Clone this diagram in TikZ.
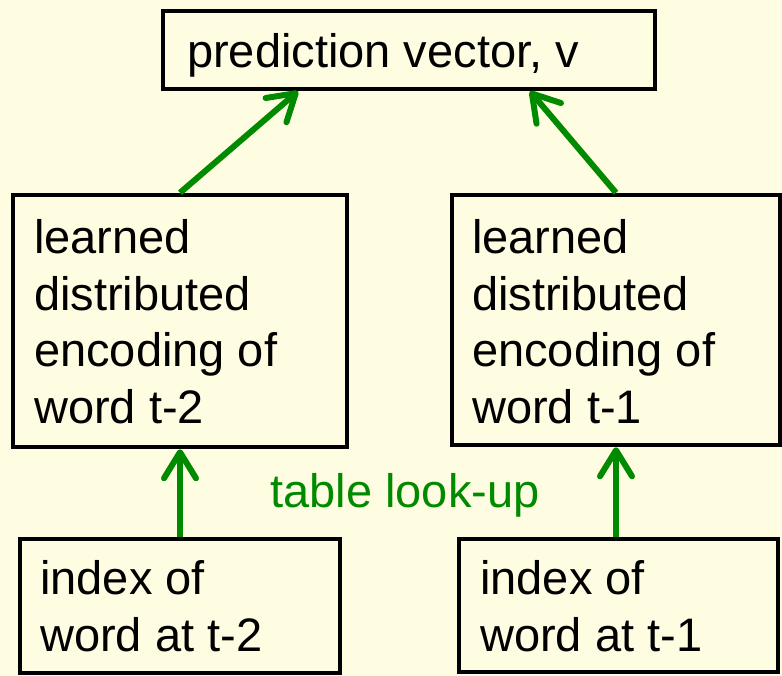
\documentclass[tikz,border=0pt]{standalone}
\usepackage{fontspec}
\setmainfont{Liberation Sans}
\usetikzlibrary{arrows.meta,calc}
\definecolor{bgyellow}{RGB}{255,253,225}
\definecolor{arrgreen}{RGB}{0,138,0}
\begin{document}
\begin{tikzpicture}[x=1pt,y=-1pt,
  box/.style={draw=black,line width=4.5pt,inner sep=0pt,fill=none},
  txt/.style={inner sep=0pt,align=left,font=\fontsize{47}{56.5}\selectfont,anchor=north west},
  conn/.style={draw=arrgreen,line width=6pt,-{Straight Barb[length=26pt,width=32pt,round]}},
  lbl/.style={inner sep=0pt,text=arrgreen,font=\fontsize{47}{56.5}\selectfont,anchor=base}]
\fill[bgyellow] (0,0) rectangle (782,676);
\useasboundingbox (0,0) rectangle (782,676);
% boxes
\node[box,minimum width=492pt,minimum height=78pt] (top) at (409,50) {};
\node[box,minimum width=334pt,minimum height=252pt] (m1) at (180,321) {};
\node[box,minimum width=328pt,minimum height=250pt] (m2) at (616,320) {};
\node[box,minimum width=320pt,minimum height=134pt] (b1) at (180,606) {};
\node[box,minimum width=319pt,minimum height=133pt] (b2) at (618.5,605.5) {};
% texts
\node[inner sep=0pt,font=\fontsize{47}{56.5}\selectfont,anchor=base west] (ttop) at (187,68) {prediction vector, v};
\node[txt] (tm1) at (34,219.4) {learned\\distributed\\encoding of\\word t-2};
\node[txt] (tm2) at (472,219.4) {learned\\distributed\\encoding of\\word t-1};
\node[txt] (tb1) at (40,560.6) {index of\\word at t-2};
\node[txt] (tb2) at (480,560.6) {index of\\word at t-1};
\node[lbl] (look) at (405,507) {table look-up};
% connectors
\draw[conn] (m1.north) -- ($(top.south)+(-111,0)$);
\draw[conn] (m2.north) -- ($(top.south)+(121,0)$);
\draw[conn] (m1.south |- b1.north) -- (m1.south);
\draw[conn] (m2.south |- b2.north) -- (m2.south);
\end{tikzpicture}
\end{document}
